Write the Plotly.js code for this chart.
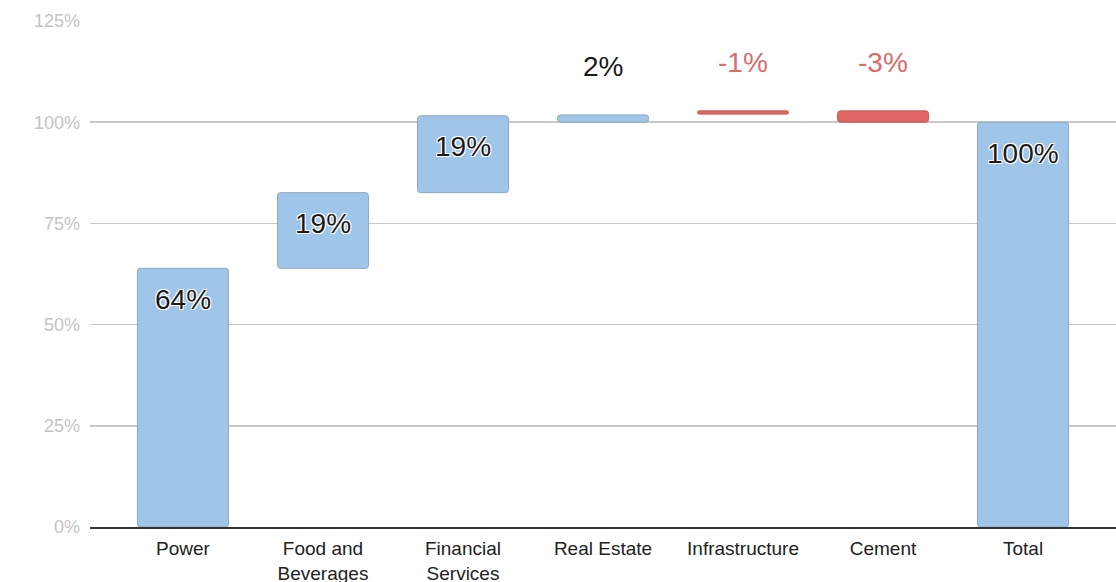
<!DOCTYPE html>
<html>
<head>
<meta charset="utf-8">
<script src="https://cdn.plot.ly/plotly-3.0.1.min.js"></script>
<style>html,body{margin:0;padding:0;background:#fff;}#chart{width:1116px;height:582px;}</style>
</head>
<body>
<div id="chart"></div>
<script>
// Data
const categories = ['Power', 'Food and<br>Beverages', 'Financial<br>Services', 'Real Estate', 'Infrastructure', 'Cement', 'Total'];
const starts     = [0, 63.9, 82.6, 100, 102.8, 102.8, 0];
const changes    = [63.9, 18.7, 19.0, 1.8, -0.8, -2.8, 100];
const labels     = ['64%', '19%', '19%', '2%', '-1%', '-3%', '100%'];
const yTickVals  = [0, 25, 50, 75, 100, 125];
const yTickText  = ['0%', '25%', '50%', '75%', '100%', '125%'];

const BLUE = '#9fc5e8', RED = '#e06666';
const colors = changes.map(v => v < 0 ? RED : BLUE);
const lineColors = changes.map(v => v < 0 ? '#c85c5c' : '#8fa9c2');

const trace = {
  type: 'bar',
  x: categories,
  y: changes,
  base: starts,
  width: 0.65,
  marker: {color: colors, line: {color: lineColors, width: 1}, cornerradius: 3},
  hoverinfo: 'none',
  textposition: 'none'
};

const outline = '1px 1px 0 #fff, -1px -1px 0 #fff, 1px -1px 0 #fff, -1px 1px 0 #fff';
const annotations = categories.map((c, i) => {
  const top = Math.max(starts[i], starts[i] + changes[i]);
  const small = Math.abs(changes[i]) < 10;
  return {
    x: c, y: top, xref: 'x', yref: 'y',
    text: labels[i], showarrow: false,
    yanchor: 'middle',
    yshift: small ? 48 : -31,
    font: {family: 'Liberation Sans, Arial, sans-serif', size: 28,
           color: changes[i] < 0 ? '#dc6b6b' : '#1a1a1a', shadow: outline}
  };
});

const layout = {
  width: 1116, height: 582,
  margin: {l: 90, r: 0, t: 21, b: 55},
  paper_bgcolor: '#fff', plot_bgcolor: '#fff',
  showlegend: false,
  font: {family: 'Liberation Sans, Arial, sans-serif'},
  xaxis: {
    type: 'category',
    range: [-0.664, 6.664],
    showgrid: false,
    showline: true, linecolor: '#333', linewidth: 1.5,
    ticks: '',
    ticklabelstandoff: 4,
    tickfont: {size: 19, color: '#222'},
    fixedrange: true
  },
  yaxis: {
    range: [0, 125],
    tickvals: yTickVals, ticktext: yTickText,
    showgrid: true, gridcolor: '#c8c8c8', gridwidth: 1.5,
    zeroline: false,
    showline: false, ticks: '',
    ticklabelstandoff: 9,
    tickfont: {size: 18, color: '#c4c4c4'},
    fixedrange: true
  },
  annotations: annotations
};

Plotly.newPlot('chart', [trace], layout, {displayModeBar: false, staticPlot: true});
</script>
</body>
</html>
